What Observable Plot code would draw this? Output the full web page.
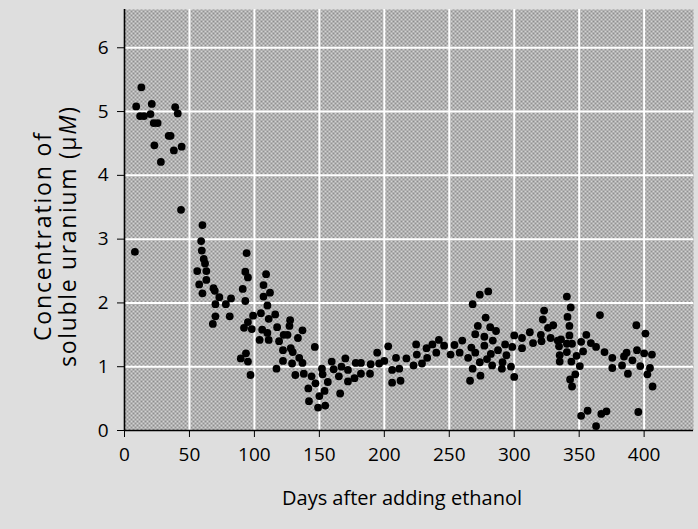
<!DOCTYPE html>
<html>
<head>
<meta charset="utf-8">
<script src="https://cdn.jsdelivr.net/npm/d3@7"></script>
<script src="https://cdn.jsdelivr.net/npm/@observablehq/plot@0.6"></script>
<style>
  html, body { margin: 0; padding: 0; background: #dedede; }
  #chart { width: 698px; height: 529px; }
  svg { display: block; }
</style>
</head>
<body>
<div id="chart"></div>
<script>
// Days after adding ethanol
const days = [
  9, 12, 13, 15, 20, 21, 22.5, 23, 25.5, 28, 34, 35.5, 38, 39, 41, 43.5, 44, 60,
  8, 59, 59.5, 61, 62, 56, 63, 63, 57.5, 60, 68.5, 69.5, 73, 70, 78, 82, 70, 68, 81,
  94, 93, 95, 91, 93, 109, 107, 112, 107, 110, 99, 105, 95, 92, 98, 111, 116, 106, 110, 104, 111,
  117.5, 122.5, 125.5, 127, 127.5, 119, 137, 133.5, 128, 129.5, 122, 122, 129, 134.5, 137, 146.5,
  93.5, 89.5, 95, 97, 117, 131.5, 138, 144, 147, 141.5, 150, 142, 149,
  152, 152.5, 154, 156.5, 154.5, 159.5, 161, 165, 166, 167, 170, 172, 172, 177, 178, 182, 182,
  189, 189.5, 194.5, 196, 200, 203, 206, 211.5, 206, 212.5, 209, 217, 222.5, 224.5, 225, 229,
  232.5, 233, 237, 240, 242, 246, 251, 254, 258, 260, 264.5, 268, 266, 267, 268, 270, 272, 270,
  274, 273.5, 280, 278, 277, 277, 273.5, 279, 282, 281.5, 283.5, 283, 286, 287.5,
  291, 290.5, 294, 293, 297.5, 298.5, 300, 300, 306, 306, 312, 314.5, 320.5, 321, 323, 322,
  326, 330, 328, 333.5, 336, 334.5, 335, 335, 340.5, 343.5, 341, 342.5, 342.5, 340.5, 344.5,
  340.5, 344, 348, 351.5, 353, 355.5, 350.5, 347, 343, 344.5, 359, 363, 366, 369.5, 375.5,
  375.5, 383, 384.5, 386.5, 387.5, 391, 394, 394.5, 397, 400, 401, 402.5, 404.5, 406, 406.5,
  351.5, 356.5, 363, 367, 371, 395.5
];
// Concentration of soluble uranium (µM)
const uranium = [
  5.08, 4.93, 5.38, 4.93, 4.96, 5.12, 4.82, 4.47, 4.82, 4.21, 4.62, 4.62, 4.39, 5.07, 4.97, 3.46, 4.45, 3.22,
  2.80, 2.97, 2.82, 2.69, 2.62, 2.50, 2.50, 2.36, 2.29, 2.15, 2.23, 2.19, 2.09, 1.98, 1.98, 2.07, 1.79, 1.67, 1.79,
  2.78, 2.49, 2.40, 2.22, 2.03, 2.45, 2.28, 2.16, 2.10, 1.96, 1.80, 1.84, 1.70, 1.61, 1.59, 1.75, 1.82, 1.58, 1.53, 1.42, 1.42,
  1.62, 1.50, 1.50, 1.64, 1.73, 1.40, 1.57, 1.45, 1.29, 1.23, 1.26, 1.09, 1.05, 1.14, 1.06, 1.31,
  1.21, 1.13, 1.08, 0.87, 0.97, 0.87, 0.89, 0.85, 0.74, 0.66, 0.54, 0.46, 0.36,
  0.97, 0.88, 0.62, 0.76, 0.39, 1.08, 0.96, 0.85, 0.58, 1.00, 1.13, 0.95, 0.77, 0.82, 1.06, 1.06, 0.89,
  0.89, 1.04, 1.22, 1.05, 1.09, 1.32, 0.95, 0.97, 0.75, 0.78, 1.14, 1.13, 1.02, 1.35, 1.19, 1.05,
  1.29, 1.14, 1.35, 1.22, 1.42, 1.33, 1.19, 1.34, 1.22, 1.41, 1.14, 0.97, 0.78, 1.30, 1.98, 1.51, 1.64, 1.22,
  0.86, 2.13, 2.18, 1.77, 1.47, 1.33, 1.07, 1.12, 1.20, 1.62, 1.41, 1.02, 1.56, 1.26,
  1.07, 0.97, 1.18, 1.35, 1.00, 1.31, 0.84, 1.49, 1.45, 1.29, 1.54, 1.37, 1.50, 1.40, 1.88, 1.74,
  1.61, 1.65, 1.45, 1.41, 1.43, 1.32, 1.18, 1.08, 2.10, 1.93, 1.78, 1.64, 1.49, 1.36, 1.36,
  1.23, 1.08, 1.17, 1.39, 1.24, 1.50, 1.01, 0.88, 0.80, 0.69, 1.37, 1.31, 1.81, 1.23, 1.14,
  0.98, 1.02, 1.16, 1.22, 0.89, 1.10, 1.65, 1.26, 1.01, 1.21, 1.52, 0.88, 0.98, 1.19, 0.69,
  0.23, 0.31, 0.07, 0.26, 0.30, 0.29
];
const xTicks = [0, 50, 100, 150, 200, 250, 300, 350, 400];
const yTicks = [0, 1, 2, 3, 4, 5, 6];
const xTitle = "Days after adding ethanol";
const yTitle1 = "Concentration of";
const yTitle2 = "soluble uranium (\u03bc";
const yTitleUnit = "M";

const data = days.map((d, i) => ({day: d, u: uranium[i]}));

const chart = Plot.plot({
  width: 698,
  height: 529,
  marginLeft: 124,
  marginRight: 5,
  marginTop: 9,
  marginBottom: 99,
  style: {background: "transparent", color: "black", fontFamily: "Open Sans, sans-serif", fontSize: "19px"},
  x: {domain: [0, 438], ticks: xTicks, tickSize: 7, tickPadding: 10, label: null, tickFormat: d => String(d)},
  y: {domain: [0, 6.6], ticks: yTicks, tickSize: 7, tickPadding: 9, label: null, tickFormat: d => String(d)},
  marks: [
    Plot.frame({fill: "#b1b1b1", stroke: "none"}),
    Plot.ruleX(xTicks.filter(d => d > 0), {stroke: "white", strokeWidth: 2}),
    Plot.ruleY(yTicks.filter(d => d > 0), {stroke: "white", strokeWidth: 2}),
    Plot.ruleX([0], {stroke: "black", strokeWidth: 1.6}),
    Plot.ruleY([0], {stroke: "black", strokeWidth: 1.6}),
    Plot.dot(data, {x: "day", y: "u", r: 3.9, fill: "black", stroke: "none"})
  ]
});

document.getElementById("chart").appendChild(chart);

const svg = d3.select(chart);

// stipple texture for the plotting area
const defs = svg.insert("defs", ":first-child");
const pat = defs.append("pattern")
  .attr("id", "stipple").attr("patternUnits", "userSpaceOnUse")
  .attr("width", 4).attr("height", 4);
pat.append("rect").attr("width", 4).attr("height", 4).attr("fill", "#d2d2d2");
pat.append("rect").attr("x", 0).attr("y", 0).attr("width", 2).attr("height", 2).attr("fill", "#8e8e8e");
pat.append("rect").attr("x", 2).attr("y", 2).attr("width", 2).attr("height", 2).attr("fill", "#939393");
svg.selectAll("rect").filter(function() { return this.getAttribute("fill") === "#b1b1b1"; })
  .attr("fill", "url(#stipple)");

svg.append("text")
  .attr("x", 402).attr("y", 505)
  .attr("text-anchor", "middle")
  .style("font-family", "Open Sans, sans-serif")
  .style("font-size", "20px")
  .attr("fill", "black")
  .text(xTitle);

const yt = svg.append("g").attr("transform", "translate(0,237) rotate(-90)")
  .style("font-family", "Open Sans, sans-serif")
  .style("font-size", "23px")
  .attr("fill", "black")
  .attr("text-anchor", "middle");
yt.append("text").attr("x", 0).attr("y", 51)
  .attr("textLength", 208).attr("lengthAdjust", "spacing").text(yTitle1);
const t2 = yt.append("text").attr("x", 0).attr("y", 76)
  .attr("textLength", 260).attr("lengthAdjust", "spacing").text(yTitle2);
t2.append("tspan").style("font-style", "italic").text(yTitleUnit);
t2.append("tspan").text(")");
</script>
</body>
</html>
